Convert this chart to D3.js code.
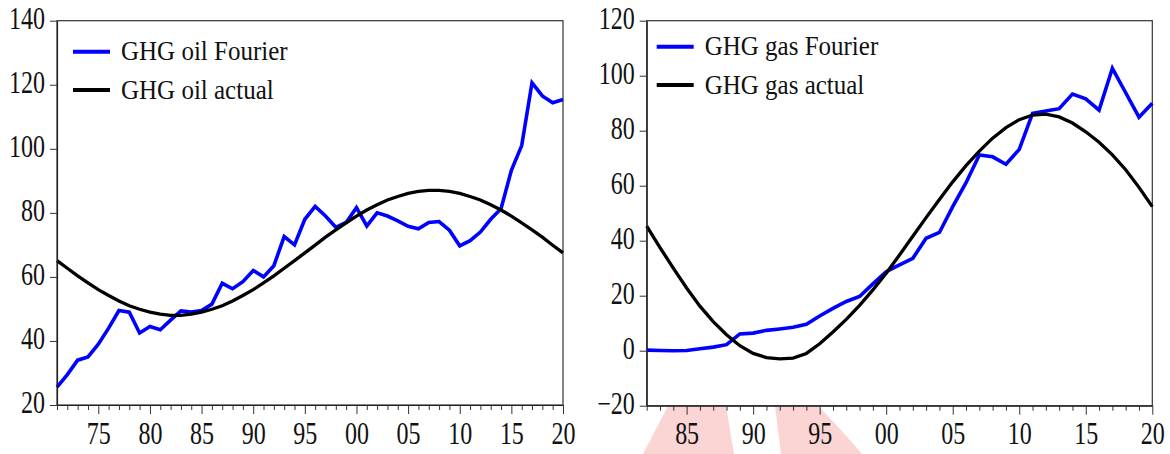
<!DOCTYPE html>
<html>
<head>
<meta charset="utf-8">
<script src="https://cdn.jsdelivr.net/npm/d3@7"></script>
<style>
  body { margin: 0; background: #fff; }
</style>
</head>
<body>
<div id="chart"></div>
<script>
// Left panel: oil, yearly 1971-2020
const oilYears = d3.range(1971, 2021);
const oilFourier = [25.6, 29.5, 34, 35, 39, 44, 49.5, 49, 42.5, 44.5,
  43.5, 46.5, 49.4, 49, 49.5, 51.5, 58, 56.3, 58.5, 62,
  60, 63.5, 72.6, 70, 78, 82, 79, 75.5, 77, 81.6,
  75.9, 80, 79, 77.5, 75.8, 75, 77, 77.3, 74.6, 69.7,
  71.3, 74, 78, 81.3, 93.3, 101, 120.6, 116.5, 114.4, 115.4];
const oilActual = [65.1, 62.7, 60.3, 58.1, 56.0, 54.2, 52.5, 51.0, 49.9, 49.0,
  48.4, 48.0, 48.0, 48.4, 49.0, 49.9, 51.0, 52.5, 54.2, 56.0,
  58.1, 60.3, 62.7, 65.1, 67.5, 69.9, 72.4, 74.7, 76.9, 79.0,
  80.9, 82.5, 84.0, 85.1, 86.1, 86.7, 87.0, 87.0, 86.7, 86.1,
  85.1, 84.0, 82.5, 80.9, 79.0, 76.9, 74.7, 72.4, 69.9, 67.5];
const oilTicks = [20, 40, 60, 80, 100, 120, 140];

// Right panel: gas, yearly 1982-2020
const gasYears = d3.range(1982, 2021);
const gasFourier = [0.2, 0.1, 0, 0.1, 0.7, 1.3, 2.2, 6.1, 6.4, 7.4,
  7.9, 8.5, 9.6, 12.6, 15.4, 17.9, 19.7, 24.3, 28.7, 31.2,
  33.6, 40.9, 43, 52.4, 61.1, 71.2, 70.5, 67.8, 73.2, 86.3,
  87.2, 88, 93.3, 91.6, 87.5, 102.7, 93.8, 84.9, 90];
const gasActual = [45.3, 37.5, 30, 22.8, 16.2, 10.6, 5.8, 1.8, -1.0, -2.5,
  -3.0, -2.7, -1.0, 2.5, 6.8, 11.4, 16.5, 22.1, 28.2, 34.8,
  41.6, 48.4, 55.0, 61.4, 67.3, 72.6, 77.3, 81.1, 84.0, 85.7,
  86.0, 85.0, 82.8, 79.6, 75.8, 71.2, 65.8, 59.4, 52.4];
const gasTicks = [-20, 0, 20, 40, 60, 80, 100, 120];

var width = 1170, height = 454;
var serif = "Liberation Serif";

var svg = d3.select("#chart").append("svg")
  .attr("width", width)
  .attr("height", height);

svg.append("rect").attr("width", width).attr("height", height).attr("fill", "#fff");

// faint watermark showing below the right panel
var mark = svg.append("g").attr("fill", "#fbcfcf").attr("opacity", 0.9);
mark.append("path").attr("d", "M668,406 L726,406 L734,454 L643,454 Z");
mark.append("path").attr("d", "M775,406 L818,406 Q840,428 862,454 L781,454 Z");

function drawPanel(p) {
  var x = d3.scaleLinear().domain(p.xDomain).range([p.left, p.right]);
  var y = d3.scaleLinear().domain(p.yDomain).range([p.bottom, p.top]);
  var g = svg.append("g");

  // plot box
  g.append("rect")
    .attr("x", p.left).attr("y", p.top)
    .attr("width", p.right - p.left).attr("height", p.bottom - p.top)
    .attr("fill", "none").attr("stroke", "#333").attr("stroke-width", 1.2);

  var line = d3.line()
    .x(function(d, i) { return x(p.years[i]); })
    .y(function(d) { return y(d); });

  g.append("path").datum(p.fourier)
    .attr("d", line).attr("fill", "none")
    .attr("stroke", "#0000ff").attr("stroke-width", 3.6);
  g.append("path").datum(p.actual)
    .attr("d", line).attr("fill", "none")
    .attr("stroke", "#000").attr("stroke-width", 3.3);

  // y axis
  var yAxis = g.append("g")
    .attr("transform", "translate(" + p.left + ",0)")
    .call(d3.axisLeft(y).tickValues(p.yTicks).tickSize(7).tickSizeOuter(0));
  yAxis.attr("font-family", serif).attr("font-size", 24);
  yAxis.select(".domain").attr("stroke", "#222").attr("stroke-width", 1.2);
  yAxis.selectAll(".tick line").attr("stroke", "#333");
  yAxis.selectAll(".tick text")
    .attr("x", null).attr("dy", null).attr("y", 0)
    .attr("text-anchor", "end")
    .attr("fill", "#111")
    .attr("font-family", serif)
    .attr("font-size", 24)
    .attr("transform", "translate(-12,7.5) scale(1,1.28)");

  // x axis: minor tick every year, labels every 5
  var xAxis = g.append("g")
    .attr("transform", "translate(0," + p.bottom + ")")
    .call(d3.axisBottom(x).tickValues(p.years).tickSize(5).tickSizeOuter(0)
      .tickFormat(function(d) { return d % 5 === 0 ? String(d % 100).padStart(2, "0") : ""; }));
  xAxis.attr("font-family", serif).attr("font-size", 24);
  xAxis.select(".domain").attr("stroke", "#222").attr("stroke-width", 1.2);
  xAxis.selectAll(".tick line")
    .attr("stroke", "#333")
    .attr("y2", function(d) { return d % 5 === 0 ? 9 : 5; });
  xAxis.selectAll(".tick text")
    .attr("dy", null).attr("y", 0)
    .attr("fill", "#111")
    .attr("font-family", serif)
    .attr("font-size", 24)
    .attr("transform", "translate(0,38.5) scale(1,1.28)");

  // legend
  var items = [
    { label: p.labels[0], color: "#0000ff" },
    { label: p.labels[1], color: "#000" }
  ];
  items.forEach(function(it, i) {
    var ly = p.legendY + i * 38.3;
    g.append("line")
      .attr("x1", p.legendX).attr("x2", p.legendX + 37)
      .attr("y1", ly).attr("y2", ly)
      .attr("stroke", it.color).attr("stroke-width", 4);
    g.append("text")
      .attr("fill", "#111")
      .attr("font-family", serif)
      .attr("font-size", 25)
      .attr("transform", "translate(" + (p.legendX + 48) + "," + (ly + 8.5) + ") scale(1,1.12)")
      .text(it.label);
  });
}

drawPanel({
  years: oilYears, fourier: oilFourier, actual: oilActual, yTicks: oilTicks,
  xDomain: [1971, 2020], yDomain: [20, 140],
  left: 57, right: 563, top: 20.7, bottom: 405,
  legendX: 73, legendY: 51.7,
  labels: ["GHG oil Fourier", "GHG oil actual"]
});

drawPanel({
  years: gasYears, fourier: gasFourier, actual: gasActual, yTicks: gasTicks,
  xDomain: [1982, 2020], yDomain: [-20, 120],
  left: 646.7, right: 1152.3, top: 20.7, bottom: 405.7,
  legendX: 656.7, legendY: 46.7,
  labels: ["GHG gas Fourier", "GHG gas actual"]
});
</script>
</body>
</html>
